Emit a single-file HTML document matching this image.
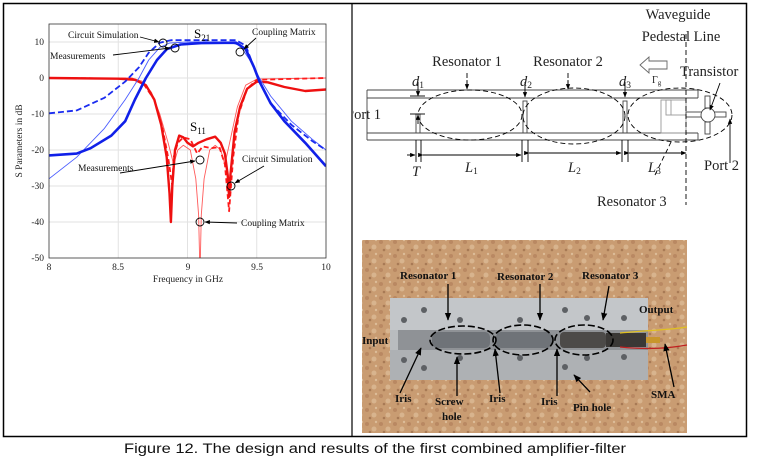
<!DOCTYPE html>
<html><head><meta charset="utf-8"><style>
html,body{margin:0;padding:0;background:#fff;width:762px;height:464px;overflow:hidden}
svg{display:block}
.s{font-family:"Liberation Serif",serif}
.b{font-family:"Liberation Serif",serif;font-weight:bold;font-size:11px}
</style></head><body>
<svg id="g" width="762" height="464" viewBox="0 0 762 464" xmlns="http://www.w3.org/2000/svg">
<defs>
<marker id="ar" viewBox="0 0 10 10" refX="9" refY="5" markerWidth="6" markerHeight="6" orient="auto"><path d="M0,1 L10,5 L0,9 z" fill="#000"/></marker>
<clipPath id="ax"><rect x="49" y="24" width="277" height="234"/></clipPath>
<clipPath id="rp"><rect x="353" y="4" width="393" height="232"/></clipPath>
<pattern id="cork" width="14" height="14" patternUnits="userSpaceOnUse">
<rect width="14" height="14" fill="#c99c72"/><circle cx="3" cy="4" r="2" fill="#b98862"/><circle cx="10" cy="9" r="2.5" fill="#d8b48e"/><circle cx="6" cy="12" r="1.3" fill="#a87a55"/><circle cx="12" cy="2" r="1.2" fill="#dcbc98"/></pattern>
</defs>
<rect x="3.5" y="3.5" width="743" height="433" fill="none" stroke="#000" stroke-width="1.5"/>
<line x1="352" y1="3" x2="352" y2="437" stroke="#000" stroke-width="1.2"/>
<g id="grid" stroke="#e2e2e2" stroke-width="1"></g>
<g clip-path="url(#ax)" id="curves" fill="none"></g>
<rect x="49" y="24" width="277" height="234" fill="none" stroke="#333" stroke-width="0.8"/>
<g class="s" font-size="9.5" fill="#222" text-anchor="end">
<text x="44" y="45">10</text><text x="44" y="81">0</text><text x="44" y="117">-10</text><text x="44" y="153">-20</text><text x="44" y="189">-30</text><text x="44" y="225">-40</text><text x="44" y="261">-50</text></g>
<g class="s" font-size="9.5" fill="#222" text-anchor="middle">
<text x="49" y="270">8</text><text x="118" y="270">8.5</text><text x="188" y="270">9</text><text x="257" y="270">9.5</text><text x="326" y="270">10</text>
<text x="188" y="282">Frequency in GHz</text></g>
<text class="s" font-size="9.5" fill="#222" text-anchor="middle" transform="translate(22,141) rotate(-90)">S Parameters in dB</text>
<g class="s" font-size="9.5" fill="#111">
<text x="68" y="38">Circuit Simulation</text>
<text x="50" y="59">Measurements</text>
<text x="252" y="35">Coupling Matrix</text>
<text x="78" y="171">Measurements</text>
<text x="242" y="162">Circuit Simulation</text>
<text x="241" y="226">Coupling Matrix</text>
</g>
<text class="s" x="194" y="38" font-size="13">S<tspan font-size="9" dy="3">21</tspan></text>
<text class="s" x="190" y="131" font-size="13">S<tspan font-size="9" dy="3">11</tspan></text>
<g stroke="#000" stroke-width="0.9" fill="none">
<line x1="140" y1="37" x2="159" y2="42" marker-end="url(#ar)"/>
<line x1="113" y1="55" x2="170" y2="48" marker-end="url(#ar)"/>
<line x1="256" y1="38" x2="244" y2="49" marker-end="url(#ar)"/>
<line x1="120" y1="173" x2="195" y2="161" marker-end="url(#ar)"/>
<line x1="264" y1="166" x2="235" y2="183" marker-end="url(#ar)"/>
<line x1="237" y1="223" x2="205" y2="222" marker-end="url(#ar)"/>
<circle cx="163" cy="43" r="4"/><circle cx="175" cy="48" r="4"/><circle cx="240" cy="52" r="4"/>
<circle cx="200" cy="160" r="4"/><circle cx="231" cy="186" r="4"/><circle cx="200" cy="222" r="4"/>
</g>
<g clip-path="url(#rp)">
<g stroke="#444" stroke-width="0.9" fill="none">
<line x1="367" y1="90" x2="698" y2="90"/><line x1="367" y1="98" x2="698" y2="98"/>
<line x1="367" y1="133" x2="698" y2="133"/><line x1="367" y1="140" x2="698" y2="140"/>
<line x1="367" y1="90" x2="367" y2="140"/><line x1="698" y1="90" x2="698" y2="98"/><line x1="698" y1="133" x2="698" y2="140"/>
<rect x="416" y="114" width="4" height="19"/>
<rect x="523" y="101" width="4" height="32"/>
<rect x="623" y="101" width="4" height="32"/>
<rect x="661" y="100" width="25" height="33" stroke="#999"/>
<rect x="666" y="100" width="5" height="15" stroke="#999"/>
<line x1="671" y1="115" x2="686" y2="115" stroke="#999"/>
<rect x="686" y="112" width="16" height="5"/>
<rect x="714" y="112" width="12" height="5"/>
<rect x="705" y="96" width="5" height="12"/><rect x="705" y="122" width="5" height="12"/>
<circle cx="708" cy="115" r="7" fill="#fff"/>
</g>
<g stroke="#000" stroke-width="0.9" fill="none" stroke-dasharray="5,3">
<ellipse cx="470" cy="115" rx="52" ry="25"/>
<ellipse cx="574" cy="116" rx="51" ry="28"/>
<ellipse cx="680" cy="115" rx="52" ry="27"/>
<line x1="686" y1="34" x2="686" y2="205"/>
<line x1="467" y1="73" x2="467" y2="88"/><line x1="568" y1="73" x2="568" y2="88"/>
<line x1="655" y1="175" x2="672" y2="140"/>
</g>
<g stroke="#000" stroke-width="0.9" fill="none">
<line x1="410" y1="96" x2="425" y2="96"/><line x1="410" y1="114" x2="425" y2="114"/>
<line x1="418" y1="82" x2="418" y2="96" marker-end="url(#ar)"/>
<line x1="418" y1="124" x2="418" y2="115" marker-end="url(#ar)"/>
<line x1="525" y1="82" x2="525" y2="97" marker-end="url(#ar)"/>
<line x1="625" y1="82" x2="625" y2="97" marker-end="url(#ar)"/>
<line x1="467" y1="80" x2="467" y2="89" marker-end="url(#ar)"/>
<line x1="568" y1="80" x2="568" y2="89" marker-end="url(#ar)"/>
<line x1="416" y1="140" x2="416" y2="162"/><line x1="421" y1="140" x2="421" y2="162"/>
<line x1="522" y1="140" x2="522" y2="162"/><line x1="528" y1="140" x2="528" y2="162"/>
<line x1="622" y1="140" x2="622" y2="162"/><line x1="628" y1="140" x2="628" y2="162"/>
<line x1="407" y1="155" x2="415" y2="155" marker-end="url(#ar)"/>
<line x1="423" y1="155" x2="521" y2="155" marker-start="url(#ar)" marker-end="url(#ar)"/>
<line x1="529" y1="153" x2="621" y2="153" marker-start="url(#ar)" marker-end="url(#ar)"/>
<line x1="629" y1="153" x2="686" y2="153" marker-start="url(#ar)" marker-end="url(#ar)"/>
<line x1="730" y1="163" x2="730" y2="119" marker-end="url(#ar)"/>
<line x1="720" y1="83" x2="710" y2="110" marker-end="url(#ar)"/>
<path d="M667,61 L649,61 L649,57 L640,65 L649,73 L649,69 L667,69 z" stroke="#666"/>
</g>
<g class="s" font-size="14.5" fill="#222">
<text x="678" y="19" text-anchor="middle">Waveguide</text>
<text x="681" y="41" text-anchor="middle">Pedestal Line</text>
<text x="467" y="66" text-anchor="middle">Resonator 1</text>
<text x="568" y="66" text-anchor="middle">Resonator 2</text>
<text x="680" y="76">Transistor</text>
<text x="346" y="119">Port 1</text>
<text x="704" y="170">Port 2</text>
<text x="597" y="206">Resonator 3</text>
<text x="412" y="176" font-style="italic">T</text>
<text x="465" y="172" font-style="italic">L<tspan font-size="9.5" dy="2" font-style="normal">1</tspan></text>
<text x="568" y="172" font-style="italic">L<tspan font-size="9.5" dy="2" font-style="normal">2</tspan></text>
<text x="648" y="172" font-style="italic">L<tspan font-size="9.5" dy="2" font-style="normal">3</tspan></text>
<text x="412" y="86" font-style="italic">d<tspan font-size="9.5" dy="2" font-style="normal">1</tspan></text>
<text x="520" y="86" font-style="italic">d<tspan font-size="9.5" dy="2" font-style="normal">2</tspan></text>
<text x="619" y="86" font-style="italic">d<tspan font-size="9.5" dy="2" font-style="normal">3</tspan></text>
<text x="652" y="83" font-size="10">Γ<tspan font-size="7" dy="2">g</tspan></text>
</g>
</g>
<rect x="362" y="240" width="325" height="193" fill="url(#cork)"/>
<rect x="390" y="298" width="258" height="82" fill="#b9bcbf"/>
<rect x="390" y="298" width="258" height="32" fill="#c3c6c9"/>
<rect x="390" y="350" width="258" height="30" fill="#aeb1b4"/>
<rect x="398" y="330" width="250" height="20" fill="#8f9296"/>
<rect x="432" y="332" width="58" height="16" rx="5" fill="#6f7378"/>
<rect x="496" y="332" width="56" height="16" rx="5" fill="#6f7378"/>
<rect x="560" y="332" width="46" height="16" rx="4" fill="#4c4a48"/>
<rect x="606" y="333" width="40" height="14" fill="#3a3836"/>
<rect x="646" y="337" width="14" height="6" fill="#c8962c"/>
<path d="M620,333 C650,330 670,330 687,327" stroke="#e0c020" stroke-width="1.2" fill="none"/>
<path d="M620,347 C650,350 670,348 687,345" stroke="#c02020" stroke-width="1.2" fill="none"/>
<g fill="#5d6064">
<circle cx="424" cy="310" r="3"/><circle cx="404" cy="320" r="3"/><circle cx="460" cy="320" r="3"/><circle cx="520" cy="320" r="3"/><circle cx="565" cy="310" r="3"/><circle cx="587" cy="318" r="3"/><circle cx="624" cy="318" r="3"/>
<circle cx="404" cy="360" r="3"/><circle cx="424" cy="368" r="3"/><circle cx="460" cy="358" r="3"/><circle cx="520" cy="358" r="3"/><circle cx="587" cy="358" r="3"/><circle cx="565" cy="367" r="3"/><circle cx="624" cy="357" r="3"/></g>
<g stroke="#000" stroke-width="1.6" fill="none" stroke-dasharray="7,3">
<ellipse cx="463" cy="340" rx="33" ry="14"/><ellipse cx="523" cy="340" rx="30" ry="15"/><ellipse cx="584" cy="340" rx="29" ry="15"/></g>
<g stroke="#000" stroke-width="1.3" fill="none">
<line x1="448" y1="284" x2="448" y2="320" marker-end="url(#ar)"/>
<line x1="540" y1="284" x2="540" y2="320" marker-end="url(#ar)"/>
<line x1="609" y1="286" x2="603" y2="320" marker-end="url(#ar)"/>
<line x1="400" y1="393" x2="421" y2="348" marker-end="url(#ar)"/>
<line x1="457" y1="396" x2="457" y2="357" marker-end="url(#ar)"/>
<line x1="500" y1="393" x2="495" y2="349" marker-end="url(#ar)"/>
<line x1="557" y1="396" x2="557" y2="349" marker-end="url(#ar)"/>
<line x1="590" y1="392" x2="574" y2="375" marker-end="url(#ar)"/>
<line x1="674" y1="387" x2="665" y2="344" marker-end="url(#ar)"/>
</g>
<g class="b" fill="#111">
<text x="400" y="279">Resonator 1</text><text x="497" y="280">Resonator 2</text><text x="582" y="279">Resonator 3</text>
<text x="639" y="313">Output</text><text x="362" y="344">Input</text>
<text x="395" y="402">Iris</text><text x="435" y="405">Screw</text><text x="442" y="420">hole</text>
<text x="489" y="402">Iris</text><text x="541" y="405">Iris</text><text x="573" y="411">Pin hole</text><text x="651" y="398">SMA</text>
</g>
<text x="375" y="453" text-anchor="middle" font-family="'Liberation Sans',sans-serif" font-size="13.5" fill="#111" textLength="502" lengthAdjust="spacingAndGlyphs">Figure 12. The design and results of the first combined amplifier-filter</text>
<script>
(function(){
var NS="http://www.w3.org/2000/svg";
function X(f){return 49+(f-8)*138.5}function Y(d){return 42+(10-d)*3.6}
var g=document.getElementById('grid');
[8.5,9,9.5].forEach(function(f){var l=document.createElementNS(NS,'line');l.setAttribute('x1',X(f));l.setAttribute('x2',X(f));l.setAttribute('y1',24);l.setAttribute('y2',258);g.appendChild(l);});
[10,0,-10,-20,-30,-40].forEach(function(d){var l=document.createElementNS(NS,'line');l.setAttribute('y1',Y(d));l.setAttribute('y2',Y(d));l.setAttribute('x1',49);l.setAttribute('x2',326);g.appendChild(l);});
var c=document.getElementById('curves');
function add(pts,col,w,dash){var d=pts.map(function(p,i){return (i?'L':'M')+X(p[0]).toFixed(1)+','+Y(p[1]).toFixed(1)}).join(' ');var p=document.createElementNS(NS,'path');p.setAttribute('d',d);p.setAttribute('stroke',col);p.setAttribute('stroke-width',w);p.setAttribute('stroke-linejoin','round');if(dash)p.setAttribute('stroke-dasharray',dash);c.appendChild(p);}
add([[8,0],[8.6,0],[8.68,-1],[8.74,-4],[8.8,-10],[8.86,-18],[8.9,-24],[8.93,-20],[8.97,-18.7],[9.02,-20],[9.06,-28],[9.08,-38],[9.09,-55],[9.1,-38],[9.12,-28],[9.16,-20],[9.2,-18.7],[9.24,-20],[9.27,-24],[9.31,-17],[9.36,-8],[9.42,-2],[9.5,-0.3],[10,0]],'#ff5a5a',0.9);
add([[8,0],[8.6,-0.2],[8.68,-1.5],[8.76,-6],[8.82,-14],[8.86,-22],[8.89,-30],[8.9,-22],[8.93,-18],[8.97,-16.5],[9.02,-17],[9.07,-21],[9.11,-19],[9.17,-19.5],[9.23,-19.2],[9.27,-24],[9.3,-37],[9.33,-22],[9.37,-10],[9.43,-3],[9.5,-0.5],[10,0]],'#ff1a1a',1.8,'5,3');
add([[8,0],[8.5,-0.2],[8.62,-0.5],[8.7,-2],[8.76,-6],[8.81,-13],[8.85,-22],[8.87,-32],[8.88,-40],[8.89,-30],[8.91,-20],[8.94,-16],[8.97,-16.5],[9.0,-18],[9.04,-19],[9.08,-18],[9.14,-17],[9.2,-16.3],[9.24,-18],[9.27,-21],[9.29,-27],[9.3,-33],[9.31,-27],[9.34,-15],[9.38,-8],[9.43,-3],[9.5,-1],[9.58,-1.2],[9.7,-2.5],[9.85,-3.6],[10,-3.2]],'#ee1010',2.4);
add([[8,-28],[8.2,-22],[8.4,-14],[8.55,-6],[8.65,0],[8.72,5],[8.8,8.5],[8.87,9.7],[9,10],[9.3,10],[9.38,9],[9.45,5],[9.52,0],[9.6,-5],[9.75,-12],[9.9,-17],[10,-20]],'#4a5cff',0.9);
add([[8,-9.8],[8.2,-9],[8.4,-5.5],[8.55,-1],[8.65,3],[8.72,7],[8.8,9.8],[8.88,10.5],[9.35,10.5],[9.42,9],[9.47,4],[9.52,-1],[9.6,-7],[9.75,-13],[9.9,-17.5],[10,-20]],'#1a2cf0',1.8,'6,3');
add([[8,-21.5],[8.2,-21],[8.3,-19.5],[8.45,-16],[8.55,-12],[8.62,-6],[8.7,0],[8.78,5],[8.85,8],[8.95,9.3],[9.1,9.7],[9.35,9.8],[9.42,8],[9.48,3],[9.52,-1],[9.6,-7],[9.7,-12],[9.85,-18],[10,-24.5]],'#1020e8',2.6);
})();
</script>
</svg>
</body></html>
